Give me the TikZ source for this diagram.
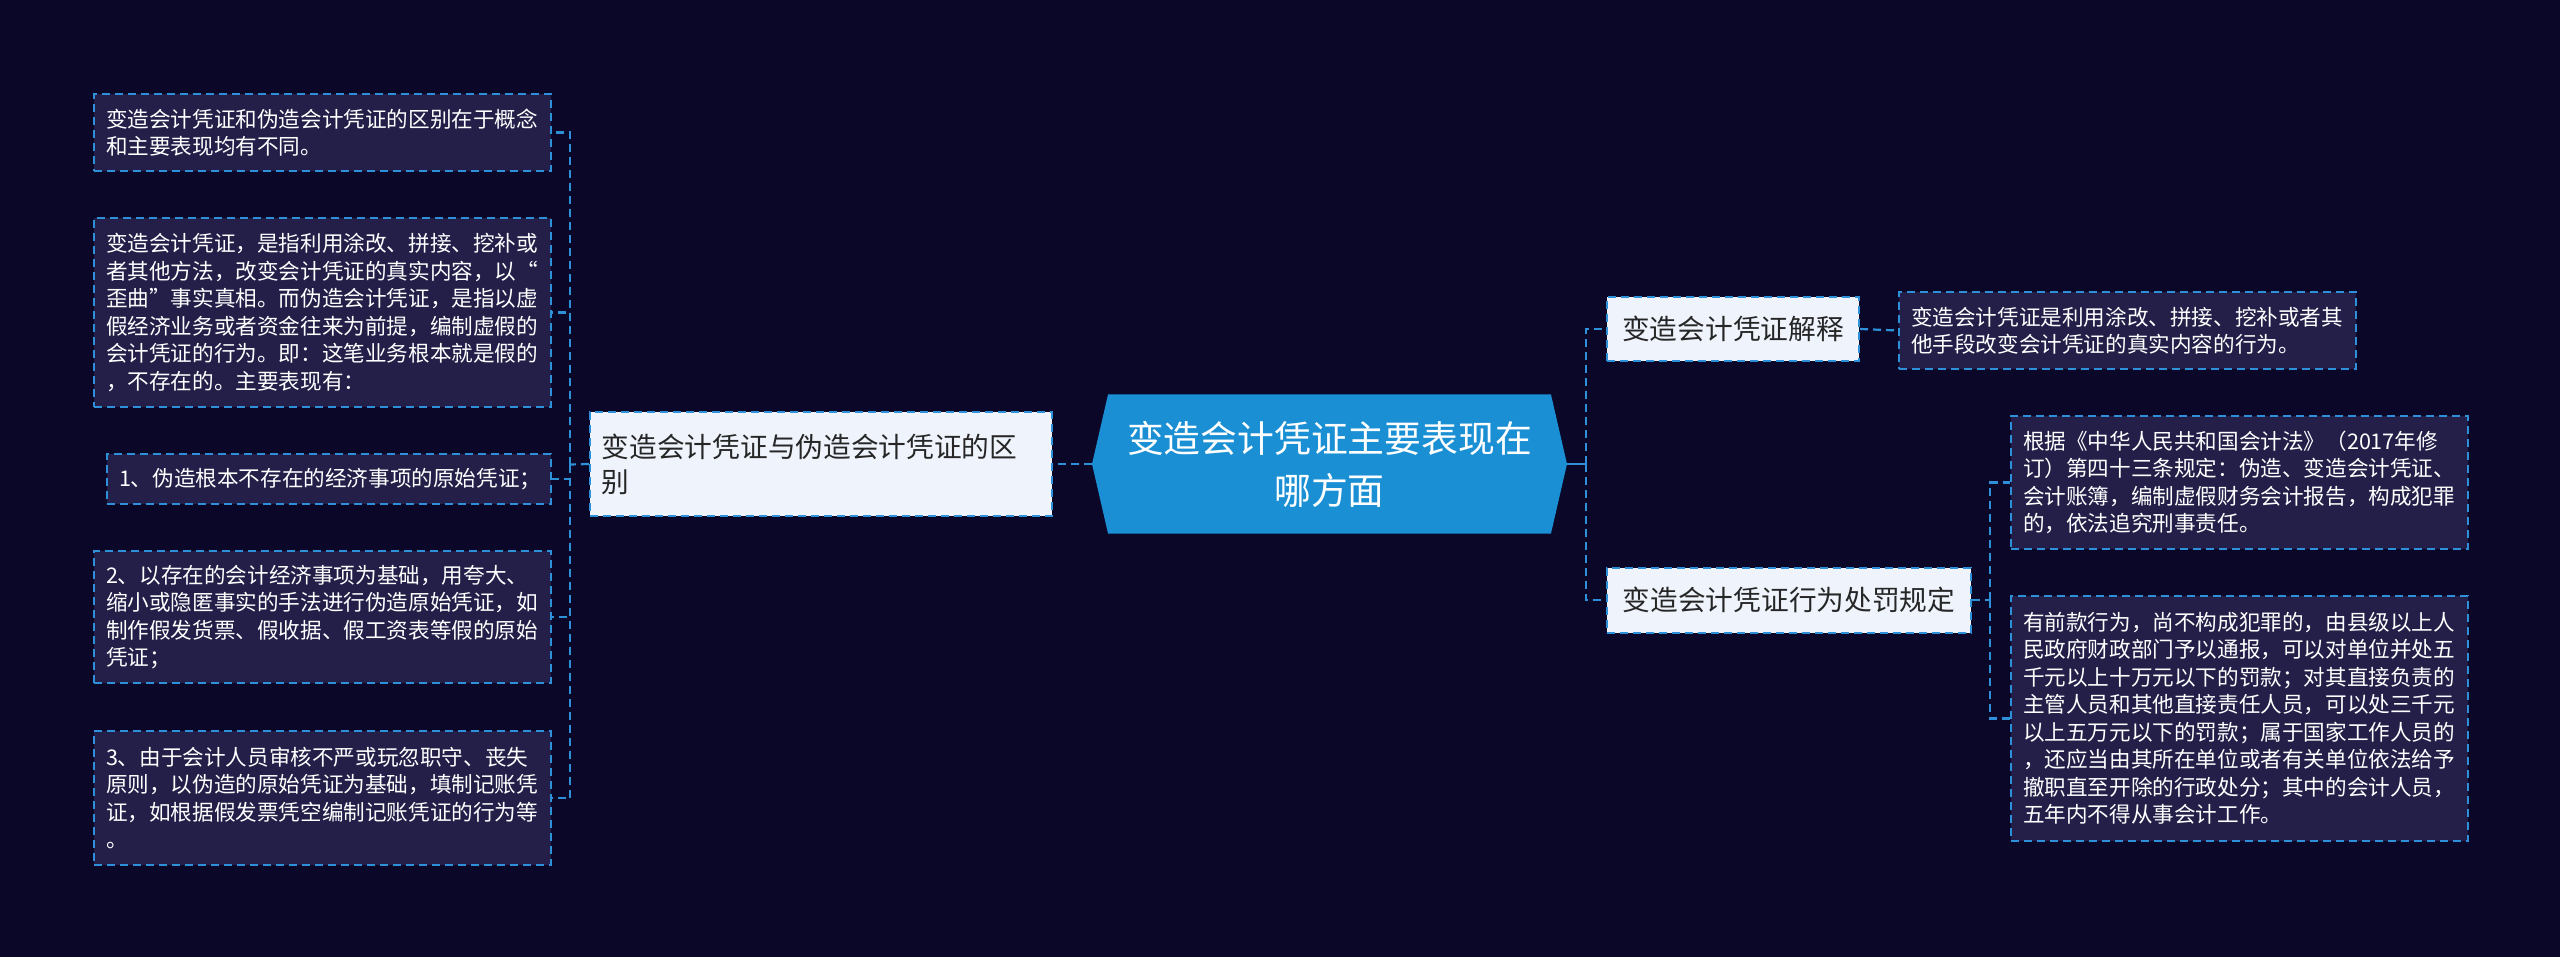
\documentclass[tikz,border=0pt]{standalone}
\usepackage{fontspec}
\setmainfont{Noto Sans CJK SC}
\usetikzlibrary{positioning, shapes.symbols}
\definecolor{nightbg}{HTML}{0B0729}
\definecolor{leafnavy}{HTML}{231F49}
\definecolor{linkblue}{HTML}{2E90D8}
\definecolor{paleblue}{HTML}{EEF3FC}
\definecolor{hubblue}{HTML}{1A8FD4}
\tikzset{
    leaf/.style={rectangle, draw=linkblue, dash pattern=on 8pt off 5pt, line width=2pt, fill=leafnavy, text=white, align=left, text width=433pt, inner xsep=12pt, inner ysep=0pt, anchor=north west, font=\fontsize{21.6pt}{27.5pt}\selectfont},
    branch/.style={rectangle, draw=linkblue, dash pattern=on 8pt off 5pt, line width=2pt, fill=paleblue, text=black!85, inner xsep=15pt, inner ysep=0pt, font=\fontsize{27.7pt}{35pt}\selectfont},
    hub/.style={signal, signal to=west and east, signal pointer angle=154, fill=hubblue, text=white, align=center, inner sep=4pt, font=\fontsize{36.8pt}{52pt}\selectfont},
    link/.style={draw=linkblue, line width=2.2pt, dash pattern=on 8pt off 5pt}
}

\begin{document}
\begin{tikzpicture}[x=1pt, y=-1pt]
    \fill[nightbg] (0,0) rectangle (2560,957);
    \useasboundingbox (0,0) rectangle (2560,957);

    % centre and branches
    \node[hub, minimum width=475pt, minimum height=139pt] (hub) at (1329.5,464) {变造会计凭证主要表现在\\哪方面};
    \node[branch, left=39pt of hub, minimum width=462pt, minimum height=103pt, text width=438pt, inner xsep=12pt, align=left] (diff) {变造会计凭证与伪造会计凭证的区\\别};
    \node[branch, anchor=west, minimum width=252pt, minimum height=64pt] (expl) at (1606,329) {变造会计凭证解释};
    \node[branch, anchor=west, minimum width=364pt, minimum height=65pt] (pen) at (1606,600) {变造会计凭证行为处罚规定};

    % left leaves
    \node[leaf, minimum height=77pt] (lf1) at (93,93) {变造会计凭证和伪造会计凭证的区别在于概念\\和主要表现均有不同。};
    \node[leaf, minimum height=189pt] (lf2) at (93,217) {变造会计凭证，是指利用涂改、拼接、挖补或\\者其他方法，改变会计凭证的真实内容，以“\\歪曲”事实真相。而伪造会计凭证，是指以虚\\假经济业务或者资金往来为前提，编制虚假的\\会计凭证的行为。即：这笔业务根本就是假的\\，不存在的。主要表现有：};
    \node[leaf, minimum height=50pt, text width=420pt] (lf3) at (106,453) {1、伪造根本不存在的经济事项的原始凭证；};
    \node[leaf, minimum height=132pt] (lf4) at (93,550) {2、以存在的会计经济事项为基础，用夸大、\\缩小或隐匿事实的手法进行伪造原始凭证，如\\制作假发货票、假收据、假工资表等假的原始\\凭证；};
    \node[leaf, minimum height=134pt] (lf5) at (93,730) {3、由于会计人员审核不严或玩忽职守、丧失\\原则，以伪造的原始凭证为基础，填制记账凭\\证，如根据假发票凭空编制记账凭证的行为等\\。};

    % right leaves
    \node[leaf, minimum height=77pt] (rf1) at (1898,291) {变造会计凭证是利用涂改、拼接、挖补或者其\\他手段改变会计凭证的真实内容的行为。};
    \node[leaf, minimum height=133pt] (rf2) at (2010,415) {根据《中华人民共和国会计法》（2017年修\\订）第四十三条规定：伪造、变造会计凭证、\\会计账簿，编制虚假财务会计报告，构成犯罪\\的，依法追究刑事责任。};
    \node[leaf, minimum height=245pt] (rf3) at (2010,595) {有前款行为，尚不构成犯罪的，由县级以上人\\民政府财政部门予以通报，可以对单位并处五\\千元以上十万元以下的罚款；对其直接负责的\\主管人员和其他直接责任人员，可以处三千元\\以上五万元以下的罚款；属于国家工作人员的\\，还应当由其所在单位或者有关单位依法给予\\撤职直至开除的行政处分；其中的会计人员，\\五年内不得从事会计工作。};

    % connectors
    \coordinate (lspine) at (570,464.5);
    \coordinate (rspine) at (1586,464);
    \coordinate (pspine) at (1990,600);
    \draw[link] (hub.west) -- (diff.east);
    \draw[link] (diff.west) -- (lspine);
    \foreach \n in {lf1,lf2,lf3,lf4,lf5}
        \draw[link] (lspine) |- (\n.east);
    \draw[link, solid] (hub.east) -- (rspine);
    \draw[link] (rspine) |- (expl.west);
    \draw[link] (rspine) |- (pen.west);
    \draw[link] (expl.east) -- (rf1.west);
    \draw[link] (pen.east) -- (pspine);
    \foreach \n in {rf2,rf3}
        \draw[link] (pspine) |- (\n.west);
\end{tikzpicture}
\end{document}
